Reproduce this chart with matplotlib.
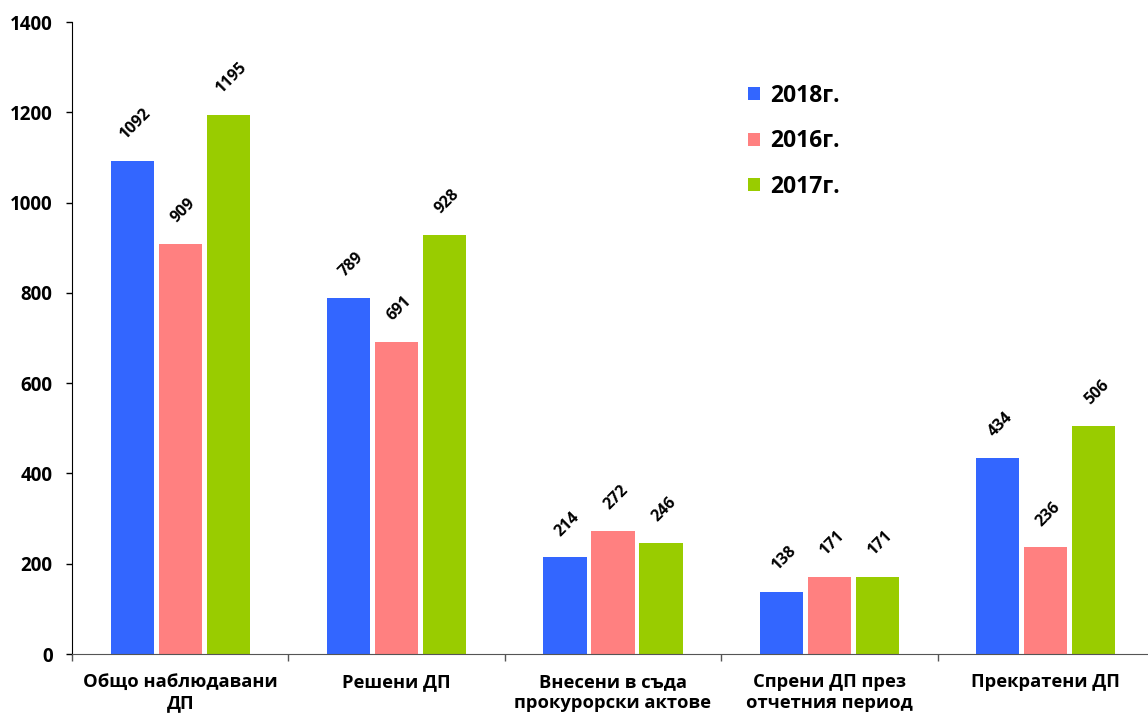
import numpy as np
import matplotlib.pyplot as plt

plt.rcParams['font.family'] = ['Open Sans', 'DejaVu Sans']
plt.rcParams['font.weight'] = 'bold'

categories = ["Общо наблюдавани\nДП", "Решени ДП", "Внесени в съда\nпрокурорски актове",
              "Спрени ДП през\nотчетния период", "Прекратени ДП"]
series_names = ["2018г.", "2016г.", "2017г."]
vals_2018 = [1092, 789, 214, 138, 434]
vals_2016 = [909, 691, 272, 171, 236]
vals_2017 = [1195, 928, 246, 171, 506]
colors = ["#3366FF", "#FF8080", "#99CC00"]

fig = plt.figure(figsize=(11.48, 7.2), dpi=100)
ax = fig.add_axes([72 / 1148, 66 / 720, (1154 - 72) / 1148, (654 - 22) / 720])

x = np.arange(len(categories))
width = 0.2
step = 0.222
for i, (name, vals) in enumerate(zip(series_names, [vals_2018, vals_2016, vals_2017])):
    pos = x + (i - 1) * step
    ax.bar(pos, vals, width, color=colors[i], label=name, zorder=2)
    for p, v in zip(pos, vals):
        ax.annotate(str(v), (p, v), xytext=(2, 13), textcoords='offset points',
                    ha='center', va='bottom', rotation=45, fontsize=11.5,
                    fontweight='bold')

ax.set_xlim(-0.5, len(categories) - 0.5)
ax.set_ylim(0, 1400)
ax.set_yticks(np.arange(0, 1401, 200))
ax.tick_params(axis='y', length=4, width=1, pad=10, labelsize=13.5)

ax.set_xticks(x)
ax.set_xticklabels(categories, fontsize=13.2, linespacing=1.2)
ax.set_xticks(np.arange(-0.5, len(categories), 1), minor=True)
ax.tick_params(axis='x', which='major', length=0, pad=14)
ax.tick_params(axis='x', which='minor', length=5, width=1, color='#555555')

for s in ['top', 'right']:
    ax.spines[s].set_visible(False)
ax.spines['left'].set_color('black')
ax.spines['bottom'].set_color('#555555')

leg = fig.legend(loc='upper left', bbox_to_anchor=(0.652, 0.884), frameon=False,
                 fontsize=16.5, handlelength=0.5, handleheight=0.5,
                 handletextpad=0.45, labelspacing=0.95, borderpad=0,
                 borderaxespad=0)
for t in leg.get_texts():
    t.set_fontweight('bold')

fig.savefig('out.png', dpi=100)
